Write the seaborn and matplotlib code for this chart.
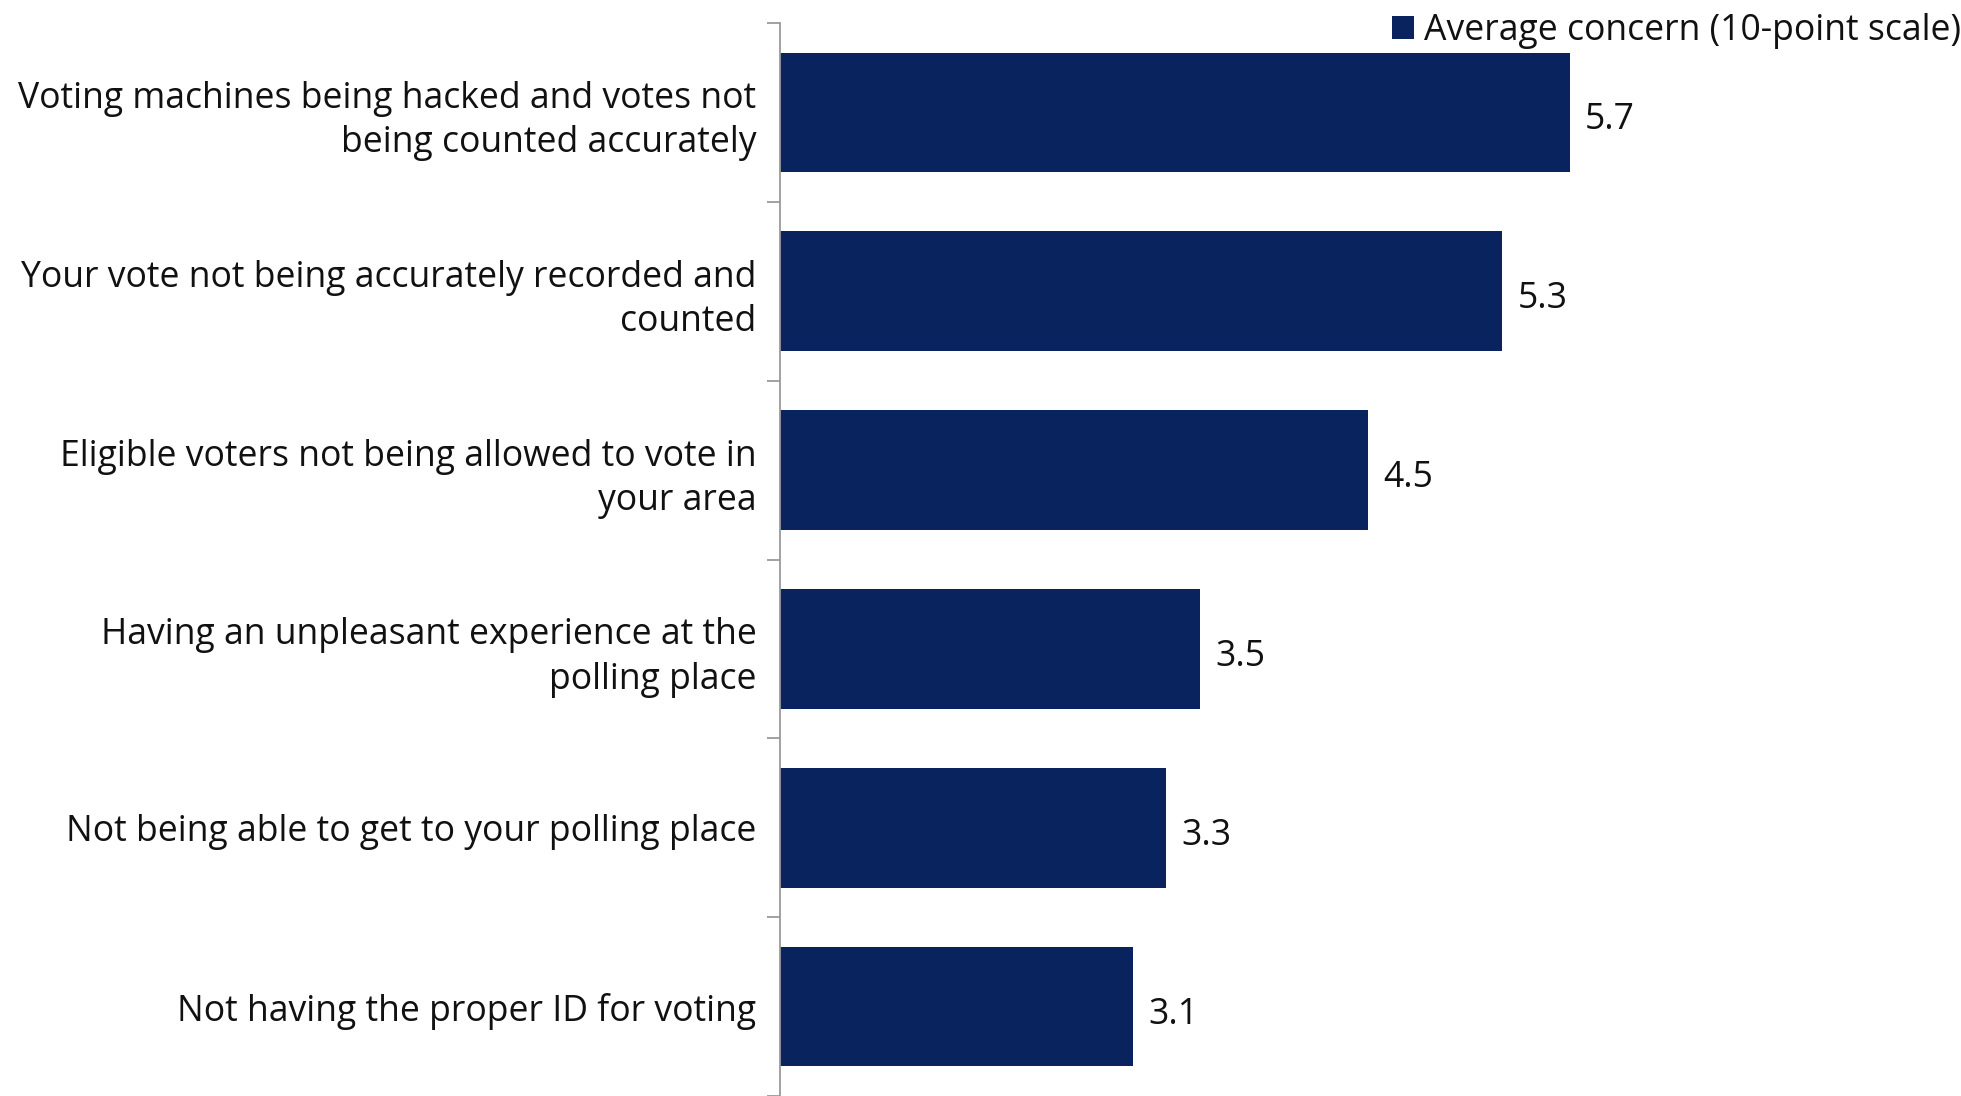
import matplotlib
matplotlib.use("Agg")
import matplotlib.pyplot as plt
from matplotlib.patches import Patch
from matplotlib.ticker import FixedLocator
import seaborn as sns
import pandas as pd

categories = [
    "Voting machines being hacked and votes not\nbeing counted accurately",
    "Your vote not being accurately recorded and\ncounted",
    "Eligible voters not being allowed to vote in\nyour area",
    "Having an unpleasant experience at the\npolling place",
    "Not being able to get to your polling place",
    "Not having the proper ID for voting",
]
concern = [5.7, 5.3, 4.5, 3.5, 3.3, 3.1]
series_name = "Average concern (10-point scale)"

navy = "#08235E"
axis_grey = "#9A9A9A"
text_color = "#111111"
fs = 25.6

sns.set_theme(style="white")
plt.rcParams["font.family"] = ["Open Sans", "DejaVu Sans"]

df = pd.DataFrame({"category": categories, "value": concern})

fig = plt.figure(figsize=(19.61, 10.96), dpi=100)
ax = fig.add_axes([0.3978, 0.0, 0.5997, 0.979])

sns.barplot(data=df, x="value", y="category", orient="h", color=navy,
            saturation=1, width=0.67, ax=ax, edgecolor="none")

ax.set_xlim(1, 8)
ax.set_ylim(len(categories) - 0.5, -0.5)

for spine in ("top", "right", "bottom"):
    ax.spines[spine].set_visible(False)
ax.spines["left"].set_color(axis_grey)
ax.spines["left"].set_linewidth(1.3)

ax.set_xticks([])
ax.set_xlabel("")
ax.set_ylabel("")

# Category labels on major ticks, boundary tick marks on minor ticks
ax.tick_params(axis="y", which="major", length=0, pad=17, labelsize=fs,
               labelcolor=text_color)
ax.yaxis.set_minor_locator(FixedLocator([i - 0.5 for i in range(len(categories) + 1)]))
ax.tick_params(axis="y", which="minor", length=9.5, width=1.3, color=axis_grey,
               left=True, direction="out")
for lbl in ax.get_yticklabels():
    lbl.set_horizontalalignment("right")
    lbl.set_multialignment("right")
    lbl.set_linespacing(1.3)

# Value labels just past the end of each bar
for patch, v in zip(ax.patches, concern):
    y_mid = patch.get_y() + patch.get_height() / 2
    ax.annotate(f"{v:.1f}", xy=(patch.get_x() + patch.get_width(), y_mid),
                xytext=(11, -2.5), textcoords="offset points",
                ha="left", va="center_baseline", fontsize=fs, color=text_color)

handle = Patch(facecolor=navy, edgecolor="none", label=series_name)
fig.legend(handles=[handle], loc="upper right", bbox_to_anchor=(1.0, 0.988),
           frameon=False, fontsize=fs, handlelength=0.62, handleheight=0.62,
           handletextpad=0.28, borderpad=0, borderaxespad=0, labelcolor=text_color)

fig.savefig("out.png", dpi=100, facecolor="white")
